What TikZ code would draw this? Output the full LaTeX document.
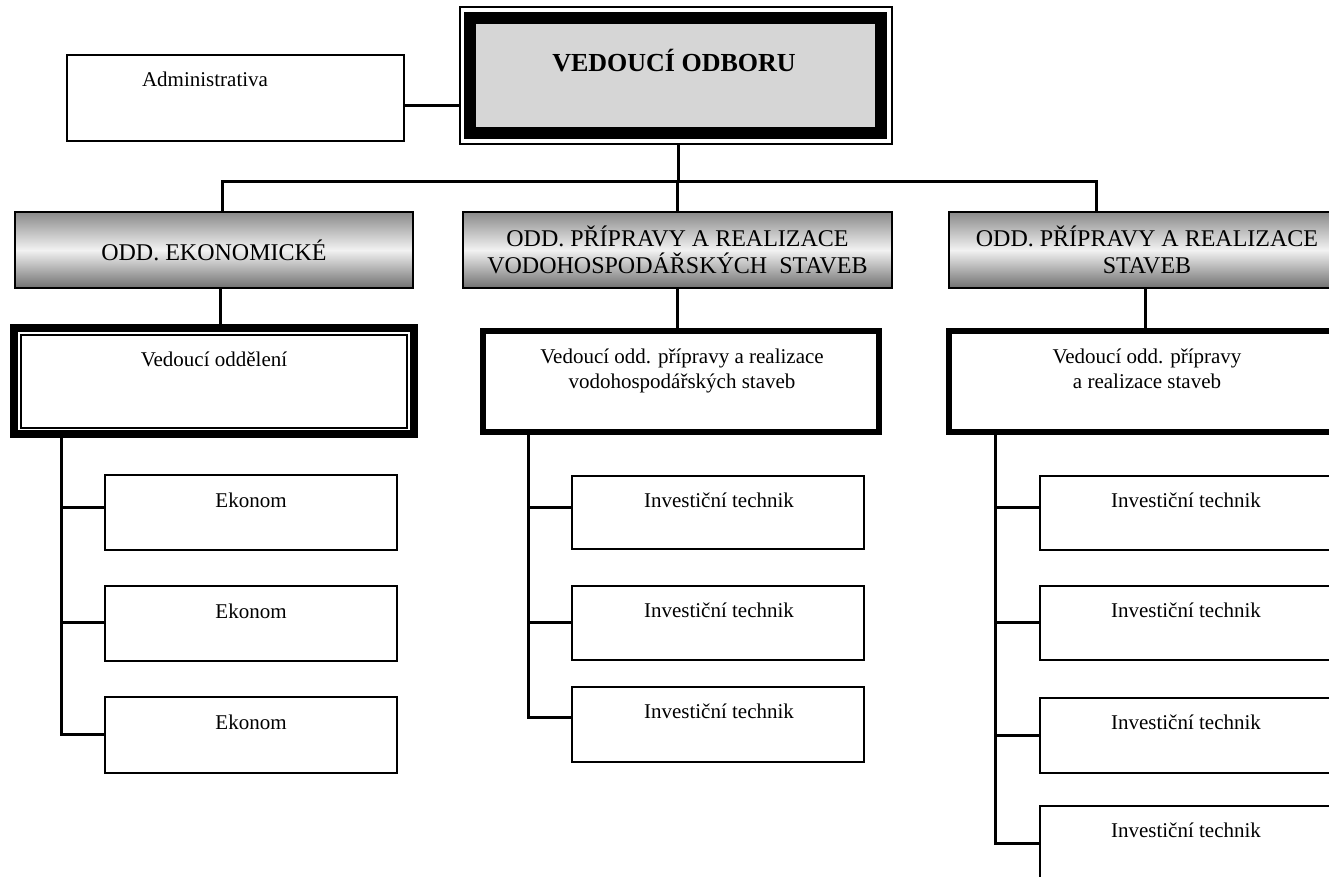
\documentclass[tikz,border=0pt]{standalone}
\usepackage{fontspec}
\setmainfont{Liberation Serif}
\definecolor{headgray}{HTML}{D6D6D6}
\definecolor{deptTop}{HTML}{8A8A8A}
\definecolor{deptMid}{HTML}{F2F2F2}
\definecolor{deptBot}{HTML}{707070}
\tikzset{
  every node/.style={inner sep=0pt, outer sep=0pt},
  conn/.style={line width=3pt, line cap=butt},
  branch/.style={line width=3pt, line cap=butt, shorten >=-1.5pt},
  thinbox/.style={draw=black, line width=2.2pt, rectangle, fill=white},
  deptbox/.style={draw=black, line width=2.2pt, rectangle, top color=deptTop, bottom color=deptBot, middle color=deptMid, align=center, font=\fontsize{24}{27}\selectfont},
  leadbox/.style={draw=black, line width=6pt, rectangle, fill=white},
  txt/.style={anchor=base, align=center, font=\fontsize{21}{25}\selectfont},
}
\begin{document}
\begin{tikzpicture}[x=1pt, y=-1pt]
\useasboundingbox (0,0) rectangle (1329,877);

% top
\node[draw=black, line width=1.5pt, minimum width=432pt, minimum height=137pt] (headframe) at (676,75.5) {};
\node[draw=black, line width=12pt, fill=headgray, minimum width=411pt, minimum height=115pt,
  label={[anchor=base, yshift=-54pt, xshift=-1.5pt, font=\fontsize{26}{30}\selectfont\bfseries]north:VEDOUCÍ ODBORU}] (head) at (675.5,75.5) {};

% administrativa
\node[thinbox, minimum width=337pt, minimum height=86pt,
  label={[txt, yshift=-32pt, xshift=-30.5pt]north:Administrativa}] (admin) at (235.5,98) {};

% departments
\node[deptbox, minimum width=398pt, minimum height=76pt] (d1) at (214,250) {ODD. EKONOMICKÉ};
\node[deptbox, minimum width=429pt, minimum height=76pt] (d2) at (677.5,250) {ODD. PŘÍPRAVY A REALIZACE\\VODOHOSPODÁŘSKÝCH\ \ STAVEB};
\node[deptbox, minimum width=396pt, minimum height=76pt] (d3) at (1147,250) {ODD. PŘÍPRAVY A REALIZACE\\STAVEB};

% leaders
\node[leadbox, line width=8pt, minimum width=400pt, minimum height=106pt] (lead1) at (214,381) {};
\node[draw=black, line width=1.5pt, minimum width=386pt, minimum height=93pt,
  label={[txt, yshift=-31pt]north:Vedoucí oddělení}] (lead1in) at (214,381.5) {};
\node[leadbox, minimum width=396pt, minimum height=101pt,
  label={[txt, yshift=-57pt, xshift=1pt]north:Vedoucí odd. přípravy a realizace\\vodohospodářských staveb}] (lead2) at (681,381.5) {};
\node[leadbox, minimum width=396pt, minimum height=101pt,
  label={[txt, yshift=-57pt]north:Vedoucí odd. přípravy\\a realizace staveb}] (lead3) at (1147,381.5) {};

% ekonom
\node[thinbox, minimum width=292pt, minimum height=75pt, label={[txt, yshift=-32pt]north:Ekonom}] (e1) at (251,512.5) {};
\node[thinbox, minimum width=292pt, minimum height=75pt, label={[txt, yshift=-32pt]north:Ekonom}] (e2) at (251,623.5) {};
\node[thinbox, minimum width=292pt, minimum height=76pt, label={[txt, yshift=-32pt]north:Ekonom}] (e3) at (251,735) {};

% middle technicians
\node[thinbox, minimum width=292pt, minimum height=73pt, label={[txt, yshift=-31pt, xshift=1pt]north:Investiční technik}] (i1) at (718,512.5) {};
\node[thinbox, minimum width=292pt, minimum height=74pt, label={[txt, yshift=-31pt, xshift=1pt]north:Investiční technik}] (i2) at (718,623) {};
\node[thinbox, minimum width=292pt, minimum height=75pt, label={[txt, yshift=-31pt, xshift=1pt]north:Investiční technik}] (i3) at (718,724.5) {};

% right technicians
\node[thinbox, minimum width=292pt, minimum height=74pt, label={[txt, yshift=-31pt]north:Investiční technik}] (r1) at (1186,513) {};
\node[thinbox, minimum width=292pt, minimum height=74pt, label={[txt, yshift=-31pt]north:Investiční technik}] (r2) at (1186,623) {};
\node[thinbox, minimum width=292pt, minimum height=75pt, label={[txt, yshift=-31pt]north:Investiční technik}] (r3) at (1186,735.5) {};
\node[thinbox, minimum width=292pt, minimum height=75pt, label={[txt, yshift=-31pt]north:Investiční technik}] (r4) at (1186,843.5) {};

% coordinates for bus and spines
\coordinate (busL) at (222,182);
\coordinate (busR) at (1096,182);
\coordinate (sp1) at (61,734);
\coordinate (sp2) at (528,717);
\coordinate (sp3) at (995,843);

% connectors
\draw[conn] ([yshift=-8pt]admin.east) -- ([yshift=-8pt]admin.east -| headframe.west);
\draw[conn] ([xshift=2pt]headframe.south) -- ([xshift=2pt]headframe.south |- busL);
\draw[conn, line join=miter] (busL |- d1.north) -- (busL) -- (busR) -- (busR |- d3.north);
\draw[conn] (d2.north) -- (d2.north |- busL);
\draw[conn] ([xshift=6pt]d1.south) -- ([xshift=6pt]d1.south |- lead1.north);
\draw[conn] (d2.south) -- (d2.south |- lead2.north);
\draw[conn] ([xshift=-2pt]d3.south) -- ([xshift=-2pt]d3.south |- lead3.north);

\draw[conn] (sp1 |- lead1.south) -- (sp1);
\draw[branch] ([yshift=5.5pt]e1.west) -- ([yshift=5.5pt]e1.west -| sp1);
\draw[branch] ([yshift=1.5pt]e2.west) -- ([yshift=1.5pt]e2.west -| sp1);
\draw[branch] ([yshift=1pt]e3.west) -- ([yshift=1pt]e3.west -| sp1);

\draw[conn] (sp2 |- lead2.south) -- (sp2);
\draw[branch] ([yshift=5.5pt]i1.west) -- ([yshift=5.5pt]i1.west -| sp2);
\draw[branch] ([yshift=1pt]i2.west) -- ([yshift=1pt]i2.west -| sp2);
\draw[branch] ([yshift=7.5pt]i3.west) -- ([yshift=7.5pt]i3.west -| sp2);

\draw[conn] (sp3 |- lead3.south) -- (sp3);
\draw[branch] ([yshift=6pt]r1.west) -- ([yshift=6pt]r1.west -| sp3);
\draw[branch] ([yshift=1pt]r2.west) -- ([yshift=1pt]r2.west -| sp3);
\draw[branch] ([yshift=0.5pt]r3.west) -- ([yshift=0.5pt]r3.west -| sp3);
\draw[branch] ([yshift=0.5pt]r4.west) -- ([yshift=0.5pt]r4.west -| sp3);
\end{tikzpicture}
\end{document}
